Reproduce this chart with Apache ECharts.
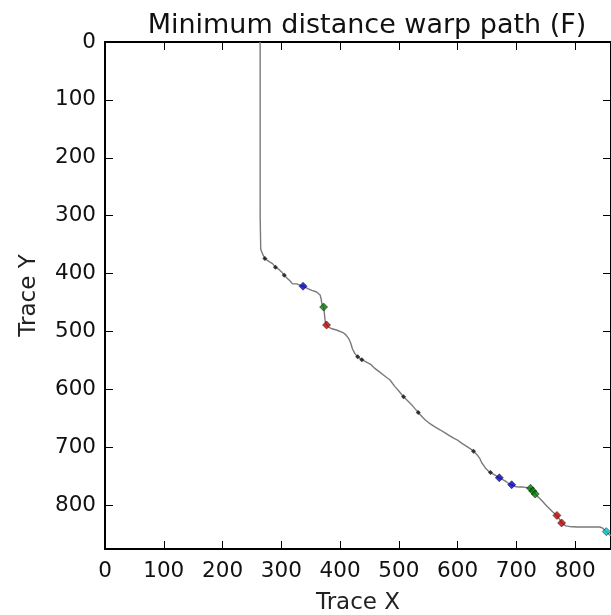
<!DOCTYPE html>
<html><head><meta charset="utf-8">
<script src="https://cdn.jsdelivr.net/npm/echarts@6/dist/echarts.min.js"></script>
<style>html,body{margin:0;padding:0;background:#fff}#c{width:611px;height:615px}</style>
</head><body><div id="c"></div>
<script>
const titleText = 'Minimum distance warp path (F)';
const xName = 'Trace X';
const yName = 'Trace Y';
const xTicks = [0,100,200,300,400,500,600,700,800];
const yTicks = [0,100,200,300,400,500,600,700,800];
const xMax = 861;
const yMax = 876;
// warp path: traceX / traceY, aligned in rows of 10
const pathX = [
  264,264,264,264,265,268,272,280,285,290,
  296,301,305,310,315,319,326,337,345,352,
  360,366,368,369,372,373,374,375,377,381,
  385,395,405,410,415,418,421,425,430,437,
  445,452,458,467,476,485,493,500,508,515,
  522,527,533,540,545,551,560,570,578,586,
  594,600,608,616,622,627,633,638,641,644,
  648,652,656,663,671,680,686,692,698,704,
  712,718,724,728,732,738,744,750,756,762,
  769,773,777,784,790,803,815,830,842,847,
  853,858,866];
const pathY = [
  0,100,200,300,358,366,374,380,383,389,
  393,398,403,408,413,418,418,422,426,429,
  432,437,445,452,458,466,476,484,489,493,
  495,498,502,506,513,520,530,538,544,549,
  553,557,563,570,577,584,595,603,613,620,
  627,633,640,648,653,658,664,670,675,680,
  685,688,694,699,703,707,713,720,727,731,
  737,741,744,748,753,758,762,765,768,769,
  769,770,771,776,781,787,793,800,806,812,
  818,824,831,836,837,838,838,838,838,840,
  846,851,855];
const blackX = [272,290,305,430,437,508,533,627,656];
const blackY = [374,389,403,544,549,613,640,707,744];
const blueX = [337,671,692];
const blueY = [422,753,765];
const greenX = [372,724,728,732];
const greenY = [458,771,776,781];
const redX = [377,769,777];
const redY = [489,818,831];
const cyanX = [853];
const cyanY = [846];

const zip = (a,b) => a.map((v,i)=>[v,b[i]]);
const font = 'DejaVu Sans';
const axisBase = {
  type: 'value',
  axisLine: {show: true, onZero: false, lineStyle: {color: '#000', width: 2}},
  axisTick: {show: true, inside: true, length: 8, lineStyle: {color: '#000', width: 1}},
  splitLine: {show: false}
};
const chart = echarts.init(document.getElementById('c'), null, {renderer: 'canvas'});
chart.setOption({
  backgroundColor: '#fff',
  animation: false,
  title: {text: titleText, left: 362, textAlign: 'center', top: 7,
    textStyle: {fontFamily: font, fontWeight: 'normal', fontSize: 27, color: '#111'}},
  grid: {left: 105, top: 42, right: 0, bottom: 66, containLabel: false, outerBoundsMode: 'none'},
  xAxis: [
    Object.assign({}, axisBase, {position: 'bottom', min: 0, max: xMax, interval: 100,
      name: xName, nameLocation: 'middle', nameGap: 43,
      nameTextStyle: {fontFamily: font, fontSize: 23, color: '#222'},
      axisLabel: {fontFamily: font, fontSize: 21.5, color: '#111', margin: 11,
        showMaxLabel: false,
        formatter: v => xTicks.includes(v) ? String(v) : ''}}),
    Object.assign({}, axisBase, {position: 'top', min: 0, max: xMax, interval: 100,
      axisLabel: {show: false}})
  ],
  yAxis: [
    Object.assign({}, axisBase, {position: 'left', inverse: true, min: 0, max: yMax, interval: 100,
      name: yName, nameLocation: 'middle', nameGap: 64, nameRotate: 90,
      nameTextStyle: {fontFamily: font, fontSize: 23, color: '#222'},
      axisLabel: {fontFamily: font, fontSize: 21.5, color: '#111', margin: 9,
        showMaxLabel: false,
        formatter: v => yTicks.includes(v) ? String(v) : ''}}),
    Object.assign({}, axisBase, {position: 'right', inverse: true, min: 0, max: yMax, interval: 100,
      axisLabel: {show: false}})
  ],
  series: [
    {type: 'line', data: zip(pathX, pathY), symbol: 'none', lineStyle: {color: '#7a7a7a', width: 1.4}, z: 2},
    {type: 'scatter', data: zip(blackX, blackY), symbol: 'diamond', symbolSize: 5, itemStyle: {color: '#111'}, z: 3},
    {type: 'scatter', data: zip(blueX, blueY), symbol: 'diamond', symbolSize: 8, itemStyle: {color: '#0000cc', borderColor: '#000', borderWidth: 0.6}, z: 3},
    {type: 'scatter', data: zip(greenX, greenY), symbol: 'diamond', symbolSize: 8, itemStyle: {color: '#007a00', borderColor: '#000', borderWidth: 0.6}, z: 3},
    {type: 'scatter', data: zip(redX, redY), symbol: 'diamond', symbolSize: 8, itemStyle: {color: '#c00000', borderColor: '#000', borderWidth: 0.6}, z: 3},
    {type: 'scatter', data: zip(cyanX, cyanY), symbol: 'diamond', symbolSize: 8, itemStyle: {color: '#00bfbf', borderColor: '#000', borderWidth: 0.6}, z: 3}
  ]
});
</script></body></html>
